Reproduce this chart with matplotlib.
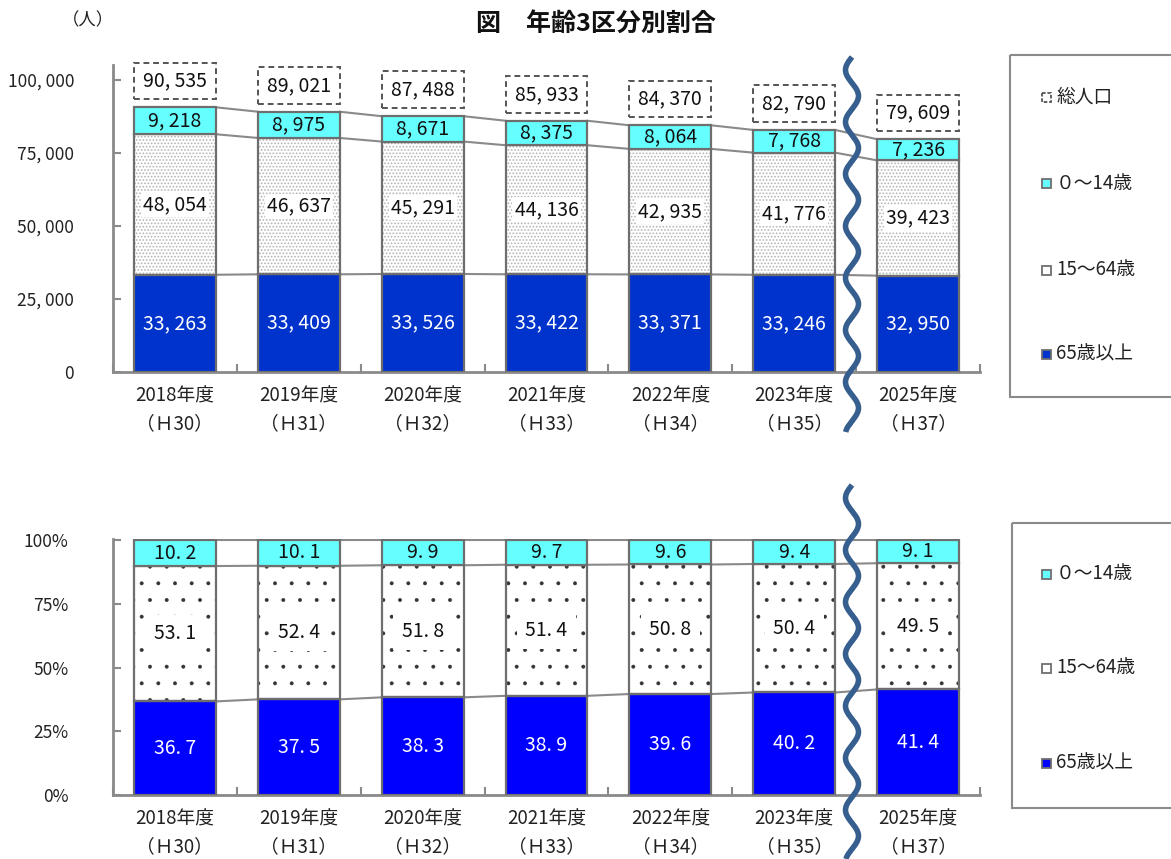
import numpy as np
import matplotlib
matplotlib.use("Agg")
import matplotlib.pyplot as plt
from matplotlib.patches import Rectangle

plt.rcParams['font.family'] = ['Noto Sans CJK JP', 'DejaVu Sans']

# data
categories = ['2018年度\n（Ｈ30）', '2019年度\n（Ｈ31）', '2020年度\n（Ｈ32）',
              '2021年度\n（Ｈ33）', '2022年度\n（Ｈ34）', '2023年度\n（Ｈ35）',
              '2025年度\n（Ｈ37）']
total = [90535, 89021, 87488, 85933, 84370, 82790, 79609]
age_0_14 = [9218, 8975, 8671, 8375, 8064, 7768, 7236]
age_15_64 = [48054, 46637, 45291, 44136, 42935, 41776, 39423]
age_65_over = [33263, 33409, 33526, 33422, 33371, 33246, 32950]

pct_0_14 = [10.2, 10.1, 9.9, 9.7, 9.6, 9.4, 9.1]
pct_15_64 = [53.1, 52.4, 51.8, 51.4, 50.8, 50.4, 49.5]
pct_65_over = [36.7, 37.5, 38.3, 38.9, 39.6, 40.2, 41.4]

count_ticks = [0, 25000, 50000, 75000, 100000]
count_ticklabels = ['0', '25, 000', '50, 000', '75, 000', '100, 000']
pct_ticks = [0, 25, 50, 75, 100]
pct_ticklabels = ['0%', '25%', '50%', '75%', '100%']

CYAN = '#66FFFF'
EDGE = '#6e6e6e'
AXIS = '#8a8a8a'
LINE = '#8a8a8a'
WAVE = '#365E8E'
W = 0.66


def fmt_count(v):
    return f"{v:,}".replace(",", ", ")


def fmt_pct(v):
    return f"{v:.1f}".replace('.', '. ')


def style_axes(ax, ticks, ticklabels, ylim, pad):
    x = np.arange(len(categories))
    ax.set_xlim(-0.5, len(categories) - 0.5)
    ax.set_ylim(*ylim)
    for s in ['top', 'right']:
        ax.spines[s].set_visible(False)
    for s in ['left', 'bottom']:
        ax.spines[s].set_color(AXIS)
        ax.spines[s].set_linewidth(2)
    ax.set_yticks(ticks)
    ax.set_yticklabels(ticklabels, fontsize=12.5, color='#222222')
    ax.tick_params(axis='y', direction='in', length=6, width=1.5, color=AXIS, pad=pad)
    ax.set_xticks(x)
    ax.set_xticklabels(categories, fontsize=13.5, color='#222222', linespacing=1.4)
    ax.tick_params(axis='x', length=0, pad=10)
    ax.set_xticks(np.arange(len(categories) + 1) - 0.5, minor=True)
    ax.tick_params(axis='x', which='minor', direction='in', length=6, width=1.5, color=AXIS)


def stacked(ax, layers, colors, hatch_color, hatch, hatch_lw):
    x = np.arange(len(categories))
    bottom = np.zeros(len(categories))
    levels = []
    for vals, col in zip(layers, colors):
        vals = np.array(vals, dtype=float)
        if col == 'hatch':
            with plt.rc_context({'hatch.linewidth': hatch_lw}):
                bars = ax.bar(x, vals, W, bottom=bottom, color='white', edgecolor=hatch_color,
                              hatch=hatch, linewidth=0, zorder=2)
            for b in bars:
                if hasattr(b, 'set_hatch_linewidth'):
                    b.set_hatch_linewidth(hatch_lw)
            ax.bar(x, vals, W, bottom=bottom, fill=False, edgecolor=EDGE,
                   linewidth=1.6, zorder=3)
        else:
            ax.bar(x, vals, W, bottom=bottom, color=col, edgecolor=EDGE,
                   linewidth=1.6, zorder=3)
        bottom = bottom + vals
        levels.append(bottom.copy())
    # connector lines between neighbouring bars
    for lev in levels:
        for i in range(len(categories) - 1):
            ax.plot([x[i] + W / 2, x[i + 1] - W / 2], [lev[i], lev[i + 1]],
                    color=LINE, lw=1.5, zorder=1)
    return levels


fig = plt.figure(figsize=(11.71, 8.59), dpi=100)
x = np.arange(len(categories))

# ---- top chart: population counts ----
ax1 = fig.add_axes([113 / 1171, 1 - 372 / 859, 867 / 1171, 307 / 859])
style_axes(ax1, count_ticks, count_ticklabels, (0, 105000), 28)
lev = stacked(ax1, [age_65_over, age_15_64, age_0_14], ['#0033CC', 'hatch', CYAN],
              '#b4b4b4', '.....', 0.8)
for i in range(len(categories)):
    ax1.text(x[i], age_65_over[i] / 2, fmt_count(age_65_over[i]), ha='center', va='center',
             color='white', fontsize=14, zorder=5)
    ax1.text(x[i], age_65_over[i] + age_15_64[i] / 2, fmt_count(age_15_64[i]),
             ha='center', va='center', color='#111111', fontsize=14, zorder=5,
             bbox=dict(facecolor='white', edgecolor='none', pad=1.5))
    ax1.text(x[i], lev[1][i] + age_0_14[i] / 2, fmt_count(age_0_14[i]), ha='center',
             va='center', color='#111111', fontsize=14, zorder=5)
    # dashed total box
    y0 = total[i] + 2700
    ax1.add_patch(Rectangle((x[i] - W / 2, y0), W, 12600, fill=False, edgecolor='#555555',
                            linestyle=(0, (3, 2)), linewidth=1.4, zorder=4, clip_on=False))
    ax1.text(x[i], y0 + 6300, fmt_count(total[i]), ha='center', va='center',
             color='#111111', fontsize=14, zorder=5)

# ---- bottom chart: shares ----
ax2 = fig.add_axes([113 / 1171, 1 - 795 / 859, 867 / 1171, 256 / 859])
style_axes(ax2, pct_ticks, pct_ticklabels, (0, 100.4), 32)
stacked(ax2, [pct_65_over, pct_15_64, pct_0_14], ['#0000FF', 'hatch', CYAN],
        '#333333', '.', 0.35)
for i in range(len(categories)):
    ax2.text(x[i], pct_65_over[i] / 2, fmt_pct(pct_65_over[i]),
             ha='center', va='center', color='white', fontsize=14, zorder=5)
    ax2.text(x[i], pct_65_over[i] + pct_15_64[i] / 2, fmt_pct(pct_15_64[i]),
             ha='center', va='center', color='#111111', fontsize=14, zorder=5,
             bbox=dict(facecolor='white', edgecolor='none', pad=6))
    ax2.text(x[i], 100 - pct_0_14[i] / 2, fmt_pct(pct_0_14[i]),
             ha='center', va='center', color='#111111', fontsize=14, zorder=5)

# ---- overlay: title, unit, legends, break marks ----
ov = fig.add_axes([0, 0, 1, 1], zorder=10)
ov.set_xlim(0, 1171)
ov.set_ylim(859, 0)
ov.axis('off')
ov.patch.set_alpha(0)

ov.text(596, 25, '図　年齢3区分別割合', ha='center', va='center', fontsize=18,
        fontweight='bold', color='#111111')
ov.text(88, 20, '（人）', ha='center', va='center', fontsize=12.5, color='#222222')

# legends
ov.add_patch(Rectangle((1010, 55), 200, 342, fill=False, edgecolor=AXIS, lw=1.5))
ov.add_patch(Rectangle((1012, 523), 200, 285, fill=False, edgecolor=AXIS, lw=1.5))


def legend_item(yc, label, face, ls='-', edge=EDGE):
    ov.add_patch(Rectangle((1042, yc - 4.5), 9, 9, facecolor=face, edgecolor=edge,
                           lw=1.3, linestyle=ls))
    ov.text(1056, yc, label, ha='left', va='center', fontsize=13.5, color='#222222')


legend_item(97, '総人口', 'white', ls=(0, (2, 1)), edge='#555555')
legend_item(183, '０～14歳', CYAN)
legend_item(270, '15～64歳', 'white')
legend_item(354, '65歳以上', '#0033CC')
legend_item(574, '０～14歳', CYAN)
legend_item(668, '15～64歳', 'white')
legend_item(763, '65歳以上', '#0000FF')


# wavy break marks between 2023 and 2025
def wave(y_start, y_end):
    yy = np.linspace(y_start, y_end, 600)
    xx = 852 + 6.5 * np.sin(2 * np.pi * (yy - y_start) / 52.0 + np.pi)
    ov.plot(xx, yy, color=WAVE, lw=4, solid_capstyle='butt')


wave(57, 432)
wave(485, 859)

fig.savefig('out.png', dpi=100)
